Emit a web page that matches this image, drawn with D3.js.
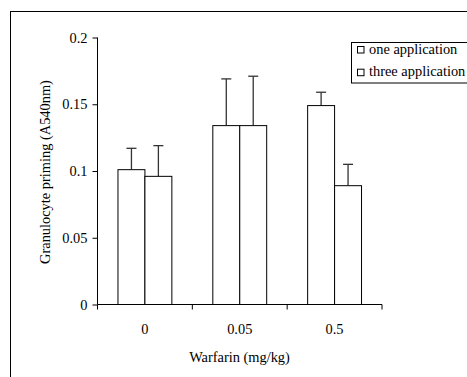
<!DOCTYPE html>
<html>
<head>
<meta charset="utf-8">
<script src="https://cdn.jsdelivr.net/npm/d3@7"></script>
<style>
  body { margin: 0; background: #fff; }
  svg text { font-family: "Liberation Serif", "Times New Roman", Times, serif; fill: #000; }
</style>
</head>
<body>
<div id="chart"></div>
<script>
// data
const doses = ['0', '0.05', '0.5'];
const seriesNames = ['one application', 'three application'];
const oneApplication = [0.101, 0.134, 0.149];
const threeApplication = [0.096, 0.134, 0.089];
const oneApplicationErr = [0.016, 0.035, 0.010];
const threeApplicationErr = [0.023, 0.037, 0.016];
const yTicks = [0, 0.05, 0.1, 0.15, 0.2];

const width = 467;
const height = 377;
const fontSize = '14.4px';
const margin = { top: 37.5, right: 85, bottom: 72.5, left: 97.5 };
const innerW = 382 - margin.left;
const innerH = 304.5 - margin.top;

const svg = d3.select('#chart')
  .append('svg')
  .attr('width', width)
  .attr('height', height);

// outer frame (runs off the right and bottom edges)
svg.append('rect')
  .attr('x', 10.5)
  .attr('y', 11.5)
  .attr('width', width + 10)
  .attr('height', height + 10)
  .attr('fill', '#fff')
  .attr('stroke', '#000')
  .attr('stroke-width', 1);

const g = svg.append('g')
  .attr('transform', `translate(${margin.left},${margin.top})`);

const xScale = d3.scaleBand().domain(doses).range([0, innerW]).padding(0);
const xInner = d3.scaleBand()
  .domain(seriesNames)
  .range([0, xScale.bandwidth()])
  .paddingInner(0)
  .paddingOuter(0.76);
const yScale = d3.scaleLinear().domain([0, 0.2]).range([innerH, 0]);

const rows = doses.map((d, i) => ({
  dose: d,
  values: [
    { name: seriesNames[0], v: oneApplication[i], e: oneApplicationErr[i] },
    { name: seriesNames[1], v: threeApplication[i], e: threeApplicationErr[i] },
  ],
}));

const groups = g.selectAll('.grp')
  .data(rows)
  .enter()
  .append('g')
  .attr('class', 'grp')
  .attr('transform', (d) => `translate(${xScale(d.dose)},0)`);

// error bars (upper only, drawn under the bars)
const err = groups.selectAll('.err')
  .data((d) => d.values)
  .enter()
  .append('g')
  .attr('class', 'err')
  .attr('stroke', '#333')
  .attr('stroke-width', 1.3);

err.append('line')
  .attr('x1', (d) => xInner(d.name) + xInner.bandwidth() / 2)
  .attr('x2', (d) => xInner(d.name) + xInner.bandwidth() / 2)
  .attr('y1', (d) => yScale(d.v))
  .attr('y2', (d) => yScale(d.v + d.e));

err.append('line')
  .attr('x1', (d) => xInner(d.name) + xInner.bandwidth() / 2 - 5)
  .attr('x2', (d) => xInner(d.name) + xInner.bandwidth() / 2 + 5)
  .attr('y1', (d) => yScale(d.v + d.e))
  .attr('y2', (d) => yScale(d.v + d.e));

groups.selectAll('.bar')
  .data((d) => d.values)
  .enter()
  .append('rect')
  .attr('class', 'bar')
  .attr('x', (d) => xInner(d.name))
  .attr('y', (d) => yScale(d.v))
  .attr('width', xInner.bandwidth())
  .attr('height', (d) => innerH - yScale(d.v))
  .attr('fill', '#fff')
  .attr('stroke', '#000')
  .attr('stroke-width', 1);

// y axis
const yAxis = g.append('g')
  .call(d3.axisLeft(yScale).tickValues(yTicks).tickSize(5).tickPadding(5).tickFormat((d) => String(d)));
yAxis.select('.domain').attr('d', `M0,${innerH}V0`);
yAxis.selectAll('text').style('font-size', fontSize);

// x axis with ticks at band edges
const xAxis = g.append('g').attr('transform', `translate(0,${innerH})`);
xAxis.append('line')
  .attr('x1', 0).attr('x2', innerW)
  .attr('stroke', '#000');
xAxis.selectAll('.edge')
  .data([0, ...doses.map((d) => xScale(d) + xScale.bandwidth())])
  .enter()
  .append('line')
  .attr('x1', (d) => d).attr('x2', (d) => d)
  .attr('y1', 0).attr('y2', 5)
  .attr('stroke', '#000');
xAxis.selectAll('.lbl')
  .data(doses)
  .enter()
  .append('text')
  .attr('x', (d) => xScale(d) + xScale.bandwidth() / 2)
  .attr('y', 29)
  .attr('text-anchor', 'middle')
  .style('font-size', fontSize)
  .text((d) => d);

// axis titles
svg.append('text')
  .attr('x', 239.5)
  .attr('y', 362)
  .attr('text-anchor', 'middle')
  .style('font-size', fontSize)
  .text('Warfarin (mg/kg)');

svg.append('text')
  .attr('transform', 'translate(50,172) rotate(-90)')
  .attr('text-anchor', 'middle')
  .style('font-size', fontSize)
  .text('Granulocyte priming (A540nm)');

// legend
const legend = svg.append('g').attr('transform', 'translate(351.5,42.5)');
legend.append('rect')
  .attr('width', 130)
  .attr('height', 40.5)
  .attr('fill', '#fff')
  .attr('stroke', '#000');
const items = legend.selectAll('.item')
  .data(seriesNames)
  .enter()
  .append('g')
  .attr('transform', (d, i) => `translate(6,${4 + i * 22.7})`);
items.append('rect')
  .attr('width', 6.5)
  .attr('height', 6.5)
  .attr('y', 0)
  .attr('fill', '#fff')
  .attr('stroke', '#000');
items.append('text')
  .attr('x', 11.5)
  .attr('y', 7)
  .style('font-size', fontSize)
  .text((d) => d);
</script>
</body>
</html>
